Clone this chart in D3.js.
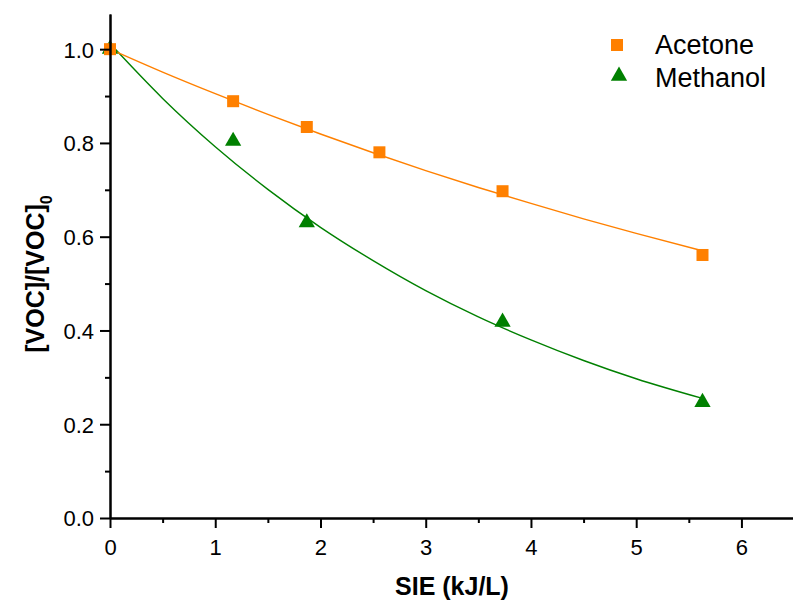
<!DOCTYPE html>
<html><head><meta charset="utf-8">
<script src="https://cdn.jsdelivr.net/npm/d3@7"></script>
<style>
html,body{margin:0;padding:0;background:#fff;}
svg{display:block;font-family:"Liberation Sans",Arial,sans-serif;}
</style></head>
<body>
<svg id="chart" width="793" height="601"></svg>
<script>
// Measured data
const sieAcetone = [0, 1.17, 1.87, 2.56, 3.73, 5.63];
const acetone    = [1.0, 0.889, 0.834, 0.780, 0.697, 0.561];
const sieMethanol = [0, 1.17, 1.87, 3.73, 5.63];
const methanol    = [1.0, 0.804, 0.630, 0.418, 0.247];
// Fit curves
const fitX        = [0, 0.5, 1, 1.5, 2, 2.5, 3, 3.5, 4, 4.5, 5, 5.63];
const fitAcetone  = [1.0, 0.951, 0.905, 0.861, 0.819, 0.779, 0.741, 0.705, 0.671, 0.638, 0.607, 0.570];
const fitMethanol = [1.012, 0.895, 0.792, 0.701, 0.620, 0.549, 0.485, 0.429, 0.380, 0.336, 0.297, 0.255];
const xTicks = [0, 1, 2, 3, 4, 5, 6];
const yTicks = [0.0, 0.2, 0.4, 0.6, 0.8, 1.0];
const seriesNames = ["Acetone", "Methanol"];

const orange = "#ff8000", green = "#008000";
const svg = d3.select("#chart");
const L = 110, R = 793, T = 14, B = 518;
const x = d3.scaleLinear().domain([0, 6.49]).range([L, R]);
const y = d3.scaleLinear().domain([0, 1.075]).range([B, T]);

// Fit lines
const line = d3.line().x(d => x(d[0])).y(d => y(d[1])).curve(d3.curveMonotoneX);
svg.append("path").datum(fitX.map((v,i)=>[v, fitMethanol[i]]))
  .attr("d", line).attr("fill","none").attr("stroke", green).attr("stroke-width",1.4);
svg.append("path").datum(fitX.map((v,i)=>[v, fitAcetone[i]]))
  .attr("d", line).attr("fill","none").attr("stroke", orange).attr("stroke-width",1.4);

// Markers
const tri = d3.symbol().type(d3.symbolTriangle).size(115);
svg.selectAll(".m").data(sieMethanol.map((v,i)=>[v, methanol[i]])).join("path")
  .attr("class","m").attr("d", tri)
  .attr("transform", d => `translate(${x(d[0])},${y(d[1])})`)
  .attr("fill", green);
svg.selectAll(".a").data(sieAcetone.map((v,i)=>[v, acetone[i]])).join("rect")
  .attr("class","a")
  .attr("x", d => x(d[0]) - 6).attr("y", d => y(d[1]) - 6)
  .attr("width", 12).attr("height", 12).attr("fill", orange);

// Axes
const xAxis = svg.append("g").attr("transform", `translate(0,${B})`)
  .call(d3.axisBottom(x).tickValues(xTicks).tickFormat(d3.format("d")).tickSize(10).tickSizeOuter(0));
const xMinor = svg.append("g").attr("transform", `translate(0,${B})`)
  .call(d3.axisBottom(x).tickValues(d3.range(0.5, 6.5, 1)).tickFormat("").tickSize(5).tickSizeOuter(0));
const yAxis = svg.append("g").attr("transform", `translate(${L},0)`)
  .call(d3.axisLeft(y).tickValues(yTicks).tickFormat(d3.format(".1f")).tickSize(10).tickSizeOuter(0));
const yMinor = svg.append("g").attr("transform", `translate(${L},0)`)
  .call(d3.axisLeft(y).tickValues(d3.range(0.1, 1.1, 0.2)).tickFormat("").tickSize(5).tickSizeOuter(0));
[xAxis, xMinor, yAxis, yMinor].forEach(g => {
  g.select(".domain").attr("stroke", "#000").attr("stroke-width", 2);
  g.selectAll(".tick line").attr("stroke", "#000").attr("stroke-width", 2);
  g.selectAll(".tick text").attr("fill", "#000").style("font-size", "22px")
   .style("font-family", "'Liberation Sans', Arial, sans-serif");
});
xAxis.selectAll(".tick text").attr("dy", "0").attr("y", 37);
yAxis.selectAll(".tick text").attr("x", -16).attr("dy", "0.36em");

// Axis titles
svg.append("text").attr("x", 452).attr("y", 595).attr("text-anchor","middle")
  .style("font-size","25px").style("font-weight","bold").text("SIE (kJ/L)");
const yt = svg.append("text").attr("transform", `translate(44,274) rotate(-90)`)
  .attr("text-anchor","middle").style("font-size","25px").style("font-weight","bold");
yt.append("tspan").text("[VOC]/[VOC]");
yt.append("tspan").attr("dy", 8).style("font-size","16px").text("0");

// Legend
const lg = svg.append("g");
lg.append("rect").attr("x", 611).attr("y", 39).attr("width", 12).attr("height", 12).attr("fill", orange);
lg.append("path").attr("d", tri).attr("transform", "translate(619,76)").attr("fill", green);
lg.append("text").attr("x", 655).attr("y", 54).style("font-size","27px").text(seriesNames[0]);
lg.append("text").attr("x", 655).attr("y", 87).style("font-size","27px").text(seriesNames[1]);
</script>
</body></html>
